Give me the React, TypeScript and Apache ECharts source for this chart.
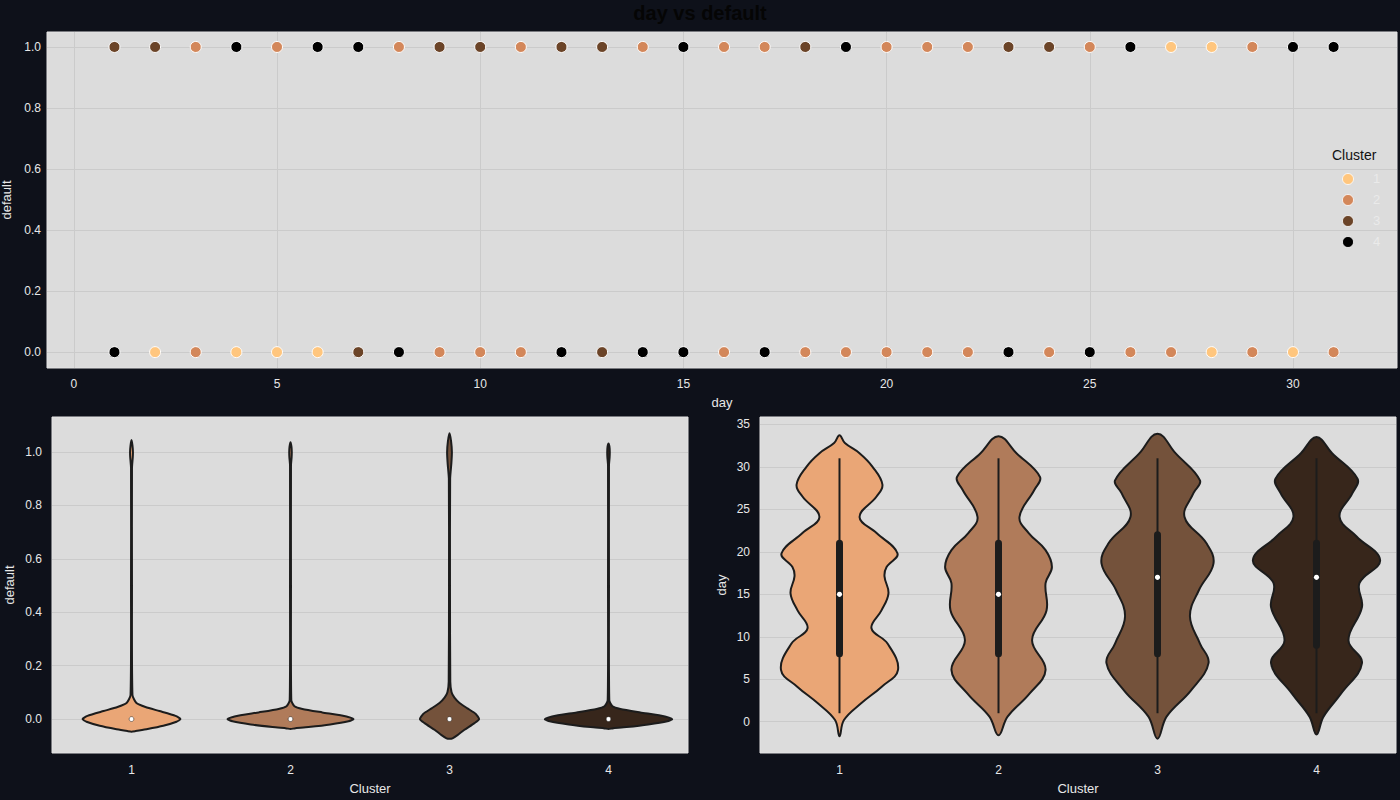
import React, { useEffect, useRef } from "react";
import * as echarts from "echarts";

// ---------- data ----------
const days = [1, 2, 3, 4, 5, 6, 7, 8, 9, 10, 11, 12, 13, 14, 15, 16, 17, 18, 19, 20, 21, 22, 23, 24, 25, 26, 27, 28, 29, 30, 31];
// visible cluster of the point at default = 1 / default = 0, for each day
const clusterAtDefault1 = [3, 3, 2, 4, 2, 4, 4, 2, 3, 3, 2, 3, 3, 2, 4, 2, 2, 3, 4, 2, 2, 2, 3, 3, 2, 4, 1, 1, 2, 4, 4];
const clusterAtDefault0 = [4, 1, 2, 1, 1, 1, 3, 4, 2, 2, 2, 4, 3, 4, 4, 2, 4, 2, 2, 2, 2, 2, 4, 2, 4, 2, 2, 1, 2, 1, 2];

const clusterNames = ["1", "2", "3", "4"];
const dayTicks = [0, 5, 10, 15, 20, 25, 30];
const defaultTicks = [0, 0.2, 0.4, 0.6, 0.8, 1.0];
const dayViolinTicks = [0, 5, 10, 15, 20, 25, 30, 35];

// violin profiles: [value, half width as fraction of category band]
const defaultViolin1 = [[-0.047, 0], [-0.045, 0.025], [-0.038, 0.094], [-0.025, 0.2], [-0.01, 0.283], [0, 0.308], [0.012, 0.277], [0.03, 0.176], [0.045, 0.088], [0.06, 0.031], [0.09, 0.006], [0.5, 0.003], [0.94, 0.003], [0.98, 0.008], [1.0, 0.009], [1.025, 0.006], [1.045, 0]];
const defaultViolin2 = [[-0.037, 0], [-0.035, 0.025], [-0.03, 0.113], [-0.02, 0.25], [-0.008, 0.365], [0, 0.396], [0.01, 0.352], [0.025, 0.2], [0.038, 0.075], [0.048, 0.025], [0.07, 0.005], [0.5, 0.003], [0.95, 0.003], [0.98, 0.007], [1.0, 0.008], [1.02, 0.006], [1.036, 0]];
const defaultViolin3 = [[-0.074, 0], [-0.072, 0.019], [-0.06, 0.05], [-0.04, 0.094], [-0.015, 0.157], [0, 0.186], [0.02, 0.164], [0.04, 0.113], [0.06, 0.063], [0.08, 0.031], [0.1, 0.013], [0.14, 0.005], [0.5, 0.003], [0.9, 0.004], [0.96, 0.012], [1.0, 0.015], [1.04, 0.01], [1.07, 0]];
const defaultViolin4 = [[-0.037, 0], [-0.035, 0.025], [-0.03, 0.113], [-0.02, 0.25], [-0.008, 0.37], [0, 0.4], [0.01, 0.355], [0.025, 0.2], [0.038, 0.075], [0.048, 0.025], [0.07, 0.005], [0.5, 0.003], [0.95, 0.003], [0.98, 0.007], [1.0, 0.008], [1.02, 0.006], [1.032, 0]];

const dayViolin1 = [[-1.7, 0], [0.2, 0.028], [2.2, 0.138], [4.1, 0.264], [6.1, 0.368], [9.2, 0.302], [11, 0.201], [13.1, 0.264], [15.1, 0.308], [17.1, 0.283], [18.2, 0.296], [19.8, 0.365], [22.2, 0.233], [24.1, 0.126], [26.5, 0.233], [27.9, 0.27], [30, 0.208], [31.6, 0.126], [32.8, 0.034], [33.7, 0]];
const dayViolin2 = [[-1.6, 0], [0.6, 0.057], [3.3, 0.195], [6.1, 0.296], [9.6, 0.211], [13.1, 0.302], [16.3, 0.296], [18.2, 0.336], [20.2, 0.296], [22.2, 0.19], [24.1, 0.132], [27.3, 0.226], [28.8, 0.261], [31.6, 0.113], [33.6, 0]];
const dayViolin3 = [[-2.0, 0], [0.6, 0.057], [3.7, 0.211], [6.9, 0.321], [9.2, 0.267], [12.4, 0.204], [15.5, 0.261], [18.6, 0.352], [21, 0.308], [24.1, 0.17], [26.9, 0.226], [28.4, 0.267], [31.6, 0.113], [33.9, 0]];
const dayViolin4 = [[-1.5, 0], [0.6, 0.044], [3.3, 0.154], [6.9, 0.286], [9.6, 0.201], [13.5, 0.286], [16.3, 0.27], [19, 0.4], [21.8, 0.252], [24.1, 0.145], [26.9, 0.226], [28.6, 0.258], [31.6, 0.098], [33.5, 0]];

// inner box stats
const defaultMedians = [0, 0, 0, 0];
const dayWhiskerLow = [1, 1, 1, 1];
const dayWhiskerHigh = [31, 31, 31, 31];
const dayQ1 = [8, 8, 8, 9];
const dayQ3 = [21, 21, 22, 21];
const dayMedians = [15, 15, 17, 17];

// ---------- styles ----------
const BG = "#0e111a";
const PANEL = "#dcdcdc";
const GRIDLINE = "#cbcbcb";
const TEXT = "#e8e8e8";
const FONT = "Liberation Sans, Arial, sans-serif";
const scatterColors = ["#ffc67e", "#d3875a", "#6b4428", "#000000"];
const violinColors = ["#eaa676", "#b07b5a", "#74523b", "#37261b"];
const OUTLINE = "#1c1c1c";

function makeViolinRender(profiles: number[][][], box: null | { lo: number[]; hi: number[]; q1: number[]; q3: number[]; med: number[] }, medOnly: number[] | null, smooth: number) {
  return (params: any, api: any) => {
    const idx = params.dataIndex;
    const prof = profiles[idx];
    const band = api.size([1, 0])[0];
    const right = prof.map(([v, w]) => {
      const p = api.coord([idx, v]);
      return [p[0] + w * band, p[1]];
    });
    const left = prof.slice(1, prof.length - 1).reverse().map(([v, w]) => {
      const p = api.coord([idx, v]);
      return [p[0] - w * band, p[1]];
    });
    const children: any[] = [
      {
        type: "polygon",
        shape: { points: [...right, ...left], smooth },
        style: { fill: violinColors[idx], stroke: OUTLINE, lineWidth: 2 },
      },
    ];
    if (box) {
      const lo = api.coord([idx, box.lo[idx]]);
      const hi = api.coord([idx, box.hi[idx]]);
      const q1 = api.coord([idx, box.q1[idx]]);
      const q3 = api.coord([idx, box.q3[idx]]);
      const md = api.coord([idx, box.med[idx]]);
      children.push({ type: "line", shape: { x1: lo[0], y1: lo[1], x2: hi[0], y2: hi[1] }, style: { stroke: OUTLINE, lineWidth: 2 } });
      children.push({ type: "line", shape: { x1: q1[0], y1: q1[1], x2: q3[0], y2: q3[1] }, style: { stroke: OUTLINE, lineWidth: 7, lineCap: "round" } });
      children.push({ type: "circle", shape: { cx: md[0], cy: md[1], r: 2.6 }, style: { fill: "#ffffff" } });
    }
    if (medOnly) {
      const md = api.coord([idx, medOnly[idx]]);
      children.push({ type: "circle", shape: { cx: md[0], cy: md[1], r: 2.4 }, style: { fill: "#ffffff", stroke: OUTLINE, lineWidth: 0.5 } });
    }
    return { type: "group", children };
  };
}

const axisNameStyle = { color: TEXT, fontSize: 13, fontFamily: FONT };
const axisLabelBase = { color: TEXT, fontSize: 12, fontFamily: FONT };

export default function App() {
  const ref = useRef<HTMLDivElement>(null);
  useEffect(() => {
    if (!ref.current) return;
    const chart = echarts.init(ref.current, null, { renderer: "svg" });

    const scatterSeries = clusterNames.map((name, ci) => {
      const c = ci + 1;
      const data: number[][] = [];
      days.forEach((d, i) => {
        if (clusterAtDefault1[i] === c) data.push([d, 1]);
        if (clusterAtDefault0[i] === c) data.push([d, 0]);
      });
      return {
        type: "scatter",
        name,
        xAxisIndex: 0,
        yAxisIndex: 0,
        data,
        symbolSize: 11,
        itemStyle: { color: scatterColors[ci], borderColor: "#ffffff", borderWidth: 1, opacity: 1 },
        z: 3,
      };
    });

    const legendGraphics: any[] = [
      { type: "text", left: 1332, top: 148, style: { text: "Cluster", fill: "#111111", fontSize: 14, fontFamily: FONT } },
    ];
    clusterNames.forEach((name, i) => {
      legendGraphics.push({ type: "circle", shape: { cx: 1348, cy: 179 + i * 21, r: 5.5 }, style: { fill: scatterColors[i], stroke: "#ffffff", lineWidth: 0.8 } });
      legendGraphics.push({ type: "text", x: 1373, y: 172 + i * 21, style: { text: name, fill: "#eaeaea", fontSize: 13, fontFamily: FONT } });
    });

    const gridBase = { show: true, backgroundColor: PANEL, borderWidth: 1, borderColor: "#e4e4e4", containLabel: false, outerBoundsMode: "none" };

    const option: any = {
      animation: false,
      backgroundColor: BG,
      textStyle: { fontFamily: FONT },
      title: {
        text: "day vs default",
        left: "center",
        top: -2,
        textStyle: { color: "#050505", fontSize: 20, fontWeight: "bold", fontFamily: FONT },
      },
      grid: [
        { ...gridBase, left: 47, top: 32, width: 1350, height: 336 },
        { ...gridBase, left: 52, top: 417, width: 636, height: 336 },
        { ...gridBase, left: 760, top: 417, width: 636, height: 336 },
      ],
      xAxis: [
        {
          type: "value",
          gridIndex: 0,
          min: -0.66,
          max: 32.56,
          name: "day",
          nameLocation: "middle",
          nameGap: 28,
          nameTextStyle: axisNameStyle,
          axisLine: { show: false },
          axisTick: { show: false, customValues: dayTicks },
          axisLabel: { ...axisLabelBase, customValues: dayTicks, margin: 10 },
          splitLine: { show: true, lineStyle: { color: GRIDLINE, width: 1 } },
        },
        {
          type: "category",
          gridIndex: 1,
          data: clusterNames,
          name: "Cluster",
          nameLocation: "middle",
          nameGap: 29,
          nameTextStyle: axisNameStyle,
          axisLine: { show: false },
          axisTick: { show: false },
          axisLabel: { ...axisLabelBase, margin: 11 },
          splitLine: { show: false },
        },
        {
          type: "category",
          gridIndex: 2,
          data: clusterNames,
          name: "Cluster",
          nameLocation: "middle",
          nameGap: 29,
          nameTextStyle: axisNameStyle,
          axisLine: { show: false },
          axisTick: { show: false },
          axisLabel: { ...axisLabelBase, margin: 11 },
          splitLine: { show: false },
        },
      ],
      yAxis: [
        {
          type: "value",
          gridIndex: 0,
          min: -0.052,
          max: 1.049,
          name: "default",
          nameLocation: "middle",
          nameGap: 28,
          nameTextStyle: axisNameStyle,
          axisLine: { show: false },
          axisTick: { show: false, customValues: defaultTicks },
          axisLabel: { ...axisLabelBase, customValues: defaultTicks, margin: 6, formatter: (v: number) => v.toFixed(1) },
          splitLine: { show: true, lineStyle: { color: GRIDLINE, width: 1 } },
        },
        {
          type: "value",
          gridIndex: 1,
          min: -0.127,
          max: 1.131,
          name: "default",
          nameLocation: "middle",
          nameGap: 36,
          nameTextStyle: axisNameStyle,
          axisLine: { show: false },
          axisTick: { show: false, customValues: defaultTicks },
          axisLabel: { ...axisLabelBase, customValues: defaultTicks, margin: 10, formatter: (v: number) => v.toFixed(1) },
          splitLine: { show: true, lineStyle: { color: GRIDLINE, width: 1 } },
        },
        {
          type: "value",
          gridIndex: 2,
          min: -3.68,
          max: 35.86,
          name: "day",
          nameLocation: "middle",
          nameGap: 32,
          nameTextStyle: axisNameStyle,
          axisLine: { show: false },
          axisTick: { show: false, customValues: dayViolinTicks },
          axisLabel: { ...axisLabelBase, customValues: dayViolinTicks, margin: 10 },
          splitLine: { show: true, lineStyle: { color: GRIDLINE, width: 1 } },
        },
      ],
      graphic: legendGraphics,
      series: [
        ...scatterSeries,
        {
          type: "custom",
          name: "defaultViolins",
          xAxisIndex: 1,
          yAxisIndex: 1,
          data: clusterNames.map((_, i) => [i, defaultMedians[i]]),
          encode: { x: 0, y: 1 },
          renderItem: makeViolinRender([defaultViolin1, defaultViolin2, defaultViolin3, defaultViolin4], null, defaultMedians, 0.2),
          z: 3,
        },
        {
          type: "custom",
          name: "dayViolins",
          xAxisIndex: 2,
          yAxisIndex: 2,
          data: clusterNames.map((_, i) => [i, dayMedians[i]]),
          encode: { x: 0, y: 1 },
          renderItem: makeViolinRender(
            [dayViolin1, dayViolin2, dayViolin3, dayViolin4],
            { lo: dayWhiskerLow, hi: dayWhiskerHigh, q1: dayQ1, q3: dayQ3, med: dayMedians },
            null,
            0.4
          ),
          z: 3,
        },
      ],
    };
    chart.setOption(option);
    return () => chart.dispose();
  }, []);

  return (
    <div style={{ position: "fixed", left: 0, top: 0, width: 1400, height: 800, background: BG }}>
      <div ref={ref} style={{ width: 1400, height: 800 }} />
    </div>
  );
}
